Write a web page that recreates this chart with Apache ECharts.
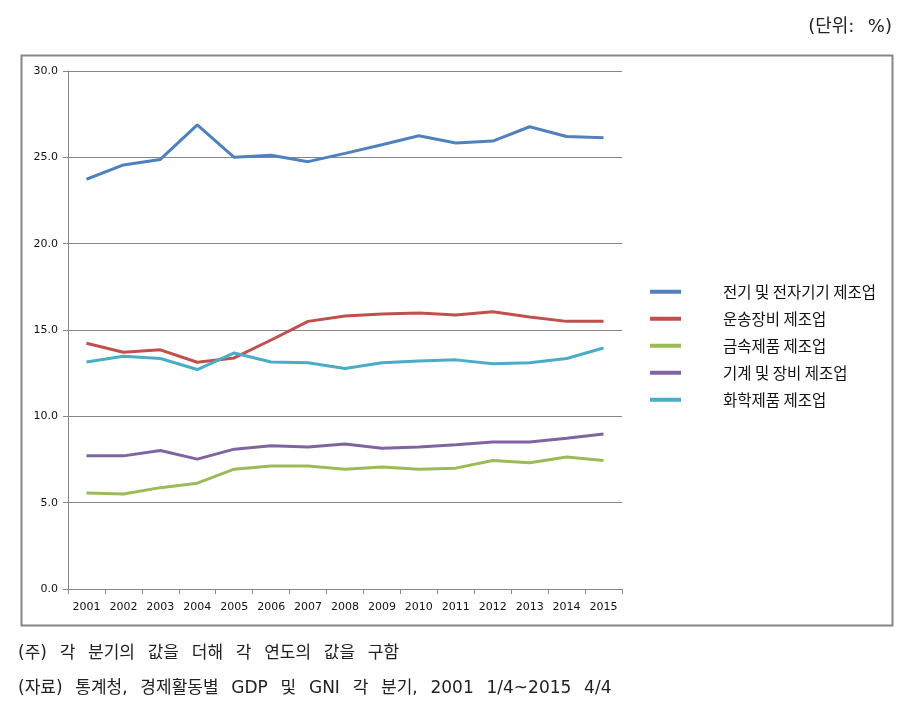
<!DOCTYPE html>
<html><head><meta charset="utf-8">
<script src="https://cdn.jsdelivr.net/npm/echarts@6/dist/echarts.min.js"></script>
<style>html,body{margin:0;padding:0;background:#fff}#c{width:924px;height:717px}</style>
</head><body><div id="c"></div>
<script>
const years = ['2001','2002','2003','2004','2005','2006','2007','2008','2009','2010','2011','2012','2013','2014','2015'];
const seriesNames = ['전기 및 전자기기 제조업','운송장비 제조업','금속제품 제조업','기계 및 장비 제조업','화학제품 제조업'];
const electric = [23.73,24.56,24.88,26.88,25.0,25.12,24.75,25.23,25.73,26.25,25.83,25.94,26.77,26.21,26.13];
const transport = [14.23,13.71,13.85,13.13,13.38,14.42,15.5,15.81,15.92,15.98,15.87,16.06,15.75,15.5,15.5];
const metal = [5.56,5.5,5.87,6.13,6.94,7.13,7.13,6.94,7.06,6.94,7.0,7.44,7.31,7.65,7.44];
const machinery = [7.71,7.71,8.02,7.52,8.1,8.29,8.23,8.4,8.15,8.23,8.35,8.52,8.52,8.73,8.98];
const chemical = [13.15,13.48,13.35,12.71,13.67,13.15,13.1,12.77,13.1,13.21,13.27,13.04,13.1,13.35,13.96];
const unitText = '(단위: %)';
const note1 = '(주) 각 분기의 값을 더해 각 연도의 값을 구함';
const note2 = '(자료) 통계청, 경제활동별 GDP 및 GNI 각 분기, 2001 1/4~2015 4/4';
const colors = ['#4F81BD','#C0504D','#9BBB59','#8064A2','#4BACC6'];
const allData = [electric, transport, metal, machinery, chemical];

const wide = s => s.replace(/ /g, '\u2002\u2005');
const chart = echarts.init(document.getElementById('c'), null, {renderer:'canvas'});
const kfont = '"Noto Sans CJK KR", "Noto Sans", sans-serif';
const mfont = '"DejaVu Sans", "Noto Sans CJK KR", sans-serif';
chart.setOption({
  animation:false,
  color: colors,
  graphic:[
    {type:'rect', shape:{x:21.5,y:55.5,width:871,height:570}, style:{fill:'none',stroke:'#868686',lineWidth:2}, z:-1},
    {type:'text', right:32, top:18, style:{text:wide(unitText), font:'18px '+mfont, fill:'#222'}},
    {type:'text', left:18, top:645, style:{text:wide(note1), font:'17px '+mfont, fill:'#222'}},
    {type:'text', left:18, top:680, style:{text:wide(note2), font:'17px '+mfont, fill:'#222'}}
  ],
  grid:{left:68, right:302, top:71, bottom:128},
  legend:{
    orient:'vertical', left:645, top:279, itemWidth:31, itemHeight:4, itemGap:11.5, icon:'rect',
    textStyle:{fontFamily:kfont, fontSize:15.5, lineHeight:15, color:'#111', padding:[0,0,0,37]},
    data: seriesNames
  },
  xAxis:{
    type:'category', data:years, boundaryGap:true,
    axisLine:{lineStyle:{color:'#868686', width:1}},
    axisTick:{show:true, length:5, lineStyle:{color:'#868686'}},
    axisLabel:{fontFamily:'"DejaVu Sans", Verdana, sans-serif', fontSize:11, color:'#111', margin:13}
  },
  yAxis:{
    type:'value', min:0, max:30, interval:5,
    axisLine:{show:true, lineStyle:{color:'#868686'}},
    axisTick:{show:true, length:5, lineStyle:{color:'#868686'}},
    splitLine:{lineStyle:{color:'#868686', width:1}},
    axisLabel:{fontFamily:'"DejaVu Sans", Verdana, sans-serif', fontSize:11, color:'#111', margin:10, formatter:v=>v.toFixed(1)}
  },
  series: seriesNames.map((n,i)=>({
    name:n, type:'line', data:allData[i], symbol:'none', smooth:false,
    lineStyle:{width:3, color:colors[i]}, itemStyle:{color:colors[i]}
  }))
});
</script></body></html>
